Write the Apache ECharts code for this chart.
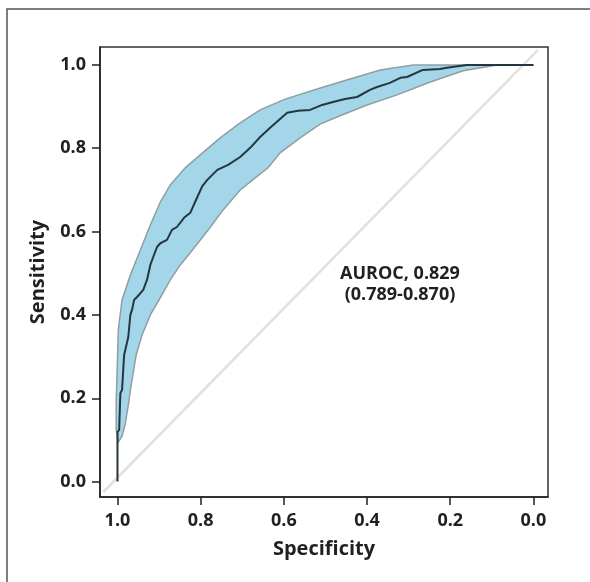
<!DOCTYPE html>
<html>
<head>
<meta charset="utf-8">
<script src="https://cdn.jsdelivr.net/npm/echarts@6/dist/echarts.min.js"></script>
<style>
  html, body { margin: 0; padding: 0; background: #fff; }
  #chart { width: 590px; height: 582px; }
</style>
</head>
<body>
<div id="chart"></div>
<script>
// ROC curve: [specificity, sensitivity]
var rocCurve = [
  [1.0, 0.0], [1.0, 0.119], [0.996, 0.124], [0.993, 0.212], [0.989, 0.220],
  [0.984, 0.304], [0.974, 0.347], [0.969, 0.400], [0.965, 0.412], [0.960, 0.436],
  [0.953, 0.443], [0.938, 0.460], [0.929, 0.484], [0.921, 0.520], [0.914, 0.539],
  [0.905, 0.563], [0.897, 0.572], [0.881, 0.580], [0.869, 0.604], [0.857, 0.611],
  [0.840, 0.633], [0.825, 0.645], [0.808, 0.683], [0.796, 0.709], [0.784, 0.724],
  [0.760, 0.748], [0.734, 0.760], [0.705, 0.779], [0.681, 0.801], [0.657, 0.827],
  [0.633, 0.849], [0.592, 0.885], [0.566, 0.890], [0.537, 0.892], [0.508, 0.904],
  [0.482, 0.911], [0.453, 0.918], [0.424, 0.923], [0.393, 0.940], [0.376, 0.947],
  [0.345, 0.957], [0.320, 0.969], [0.304, 0.971], [0.266, 0.988], [0.225, 0.990],
  [0.208, 0.993], [0.160, 1.0], [0.104, 1.0], [0.0, 1.0]
]

// confidence band, upper edge (top right -> bottom left)
var bandUpper = [
  [0.0, 1.0], [0.049, 1.0], [0.128, 1.0], [0.207, 1.0], [0.289, 1.0],
  [0.368, 0.988], [0.441, 0.966], [0.520, 0.942], [0.597, 0.918], [0.657, 0.892],
  [0.705, 0.861], [0.753, 0.825], [0.801, 0.784], [0.837, 0.753], [0.873, 0.712],
  [0.897, 0.671], [0.921, 0.616], [0.945, 0.556], [0.969, 0.496], [0.989, 0.436],
  [0.998, 0.364], [1.0, 0.292], [1.003, 0.196], [1.003, 0.124], [0.998, 0.095]
]

// confidence band, lower edge (bottom left -> top right)
var bandLower = [
  [0.989, 0.109], [0.981, 0.140], [0.974, 0.184], [0.967, 0.232], [0.955, 0.304],
  [0.941, 0.352], [0.921, 0.400], [0.900, 0.436], [0.873, 0.484], [0.849, 0.520],
  [0.825, 0.549], [0.782, 0.604], [0.746, 0.652], [0.705, 0.700], [0.669, 0.729],
  [0.638, 0.753], [0.609, 0.789], [0.561, 0.825], [0.513, 0.858], [0.465, 0.878],
  [0.405, 0.902], [0.328, 0.928], [0.248, 0.959], [0.169, 0.986], [0.087, 1.0],
  [0.025, 1.0], [0.0, 1.0]
]

var chanceLine = [[1.034, -0.025], [-0.011, 1.036]]
var tickValues = [0, 0.2, 0.4, 0.6, 0.8, 1.0]
var aurocText = ['AUROC, 0.829', '(0.789-0.870)']

var inkColor = '#231f20'
var fontFamily = '"Open Sans", "Liberation Sans", sans-serif'

var chart = echarts.init(document.getElementById('chart'))

var bandPolygon = bandUpper.concat(bandLower)

chart.setOption({
  animation: false,
  backgroundColor: '#fff',
  grid: {
    left: 100,
    top: 47,
    width: 448,
    height: 450,
    show: true,
    borderColor: '#333',
    borderWidth: 1.5,
    backgroundColor: 'transparent'
  },
  xAxis: {
    type: 'value',
    inverse: true,
    min: -0.035,
    max: 1.042,
    name: 'Specificity',
    nameLocation: 'middle',
    nameGap: 42,
    nameTextStyle: { color: inkColor, fontSize: 20, fontWeight: 'bold', fontFamily: fontFamily },
    axisLine: { show: true, onZero: false, lineStyle: { color: inkColor, width: 1.5 } },
    axisTick: { show: true, length: 8, customValues: tickValues, lineStyle: { color: inkColor, width: 1.5 } },
    axisLabel: {
      customValues: tickValues,
      margin: 15,
      color: inkColor,
      fontSize: 18,
      fontWeight: 'bold',
      fontFamily: fontFamily,
      formatter: function (v) { return v.toFixed(1) }
    },
    splitLine: { show: false }
  },
  yAxis: {
    type: 'value',
    min: -0.037,
    max: 1.043,
    name: 'Sensitivity',
    nameLocation: 'middle',
    nameGap: 52,
    nameTextStyle: { color: inkColor, fontSize: 20, fontWeight: 'bold', fontFamily: fontFamily },
    axisLine: { show: true, onZero: false, lineStyle: { color: inkColor, width: 1.5 } },
    axisTick: { show: true, length: 8, customValues: tickValues, lineStyle: { color: inkColor, width: 1.5 } },
    axisLabel: {
      customValues: tickValues,
      margin: 14,
      color: inkColor,
      fontSize: 18,
      fontWeight: 'bold',
      fontFamily: fontFamily,
      formatter: function (v) { return v.toFixed(1) }
    },
    splitLine: { show: false }
  },
  graphic: [
    {
      type: 'rect',
      shape: { x: 7, y: 9, width: 620, height: 620 },
      style: { fill: 'none', stroke: '#555', lineWidth: 1.5 },
      silent: true
    },
    {
      type: 'text',
      x: 400,
      y: 263,
      style: {
        text: aurocText.join('\n'),
        align: 'center',
        verticalAlign: 'top',
        fill: inkColor,
        font: 'bold 18px ' + fontFamily,
        lineHeight: 21
      }
    }
  ],
  series: [
    {
      type: 'line',
      data: chanceLine,
      symbol: 'none',
      lineStyle: { color: '#e4e0dc', width: 2.5 },
      z: 1
    },
    {
      type: 'custom',
      data: [0],
      renderItem: function (params, api) {
        var pts = bandPolygon.map(function (p) { return api.coord(p) })
        return {
          type: 'polygon',
          shape: { points: pts },
          style: { fill: '#a3d6e9', stroke: '#8f9ea3', lineWidth: 1.5 }
        }
      },
      z: 2
    },
    {
      type: 'line',
      data: rocCurve,
      symbol: 'none',
      lineStyle: { color: '#26363e', width: 2 },
      z: 3
    }
  ]
})
</script>
</body>
</html>
